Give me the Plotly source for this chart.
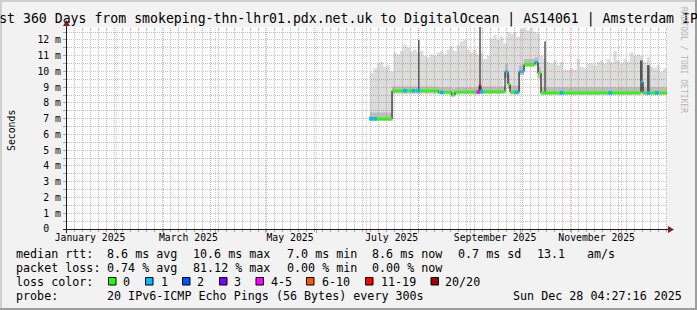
import math
import numpy as np
import pandas as pd
import plotly.graph_objects as go

# ---------------- data ----------------
range_start = "2025-01-02 04:27:16"
range_end = "2025-12-28 04:27:16"
y_top = 12.825

# smoke (max ping) per 2-day bin, starting 2025-07-03
smoke_bin_start = "2025-07-03"
smoke_bin_days = 2
smoke_top = [9.9, 10.2, 10.5, 10.6, 10.3, 10.4, 10.0, 11.2, 11.1, 11.3,
             11.7, 11.5, 11.3, 11.4, 11.2, 11.3, 11.0, 10.9, 11.1, 11.0,
             11.2, 11.3, 11.1, 11.4, 11.6, 11.3, 11.7, 11.9, 12.0, 11.4,
             11.2, 11.4, 11.1, 11.2, 10.8, 11.0, 12.1, 12.3, 12.0, 12.2,
             11.8, 12.5, 12.4, 12.5, 12.2, 12.7, 12.8, 12.6, 12.8, 12.5,
             12.4, 11.0, 10.8, 10.6, 10.5, 10.7, 10.4, 10.6, 10.1, 10.1,
             10.2, 10.1, 10.8, 10.3, 10.2, 10.5, 10.5, 10.4, 10.6, 10.7,
             10.5, 10.8, 10.6, 11.3, 10.7, 10.5, 10.8, 10.6, 11.2, 11.0,
             11.1, 11.0, 10.6, 10.9, 10.3, 10.2, 10.4, 10.0, 10.2]

# median rtt (ms) as steps, with loss category of each step
med_dates = ["2025-07-03 00:00", "2025-07-16 05:00", "2025-08-13 00:00", "2025-08-21 00:00",
             "2025-08-23 00:00", "2025-09-06 12:00", "2025-09-07 12:00", "2025-09-22 00:00",
             "2025-09-23 19:00", "2025-09-25 00:00", "2025-09-30 10:00", "2025-10-03 10:00",
             "2025-10-10 00:00", "2025-10-11 19:00", "2025-10-13 14:00", "2025-12-12 14:00",
             "2025-12-13 19:00"]
med_end = "2025-12-28 04:00"
med_vals = [7.0, 8.78, 8.68, 8.52, 8.7, 9.1, 8.72, 10.0, 9.2, 8.68, 10.0, 10.45,
            10.6, 9.9, 8.65, 9.35, 8.65]
med_loss = [0, 0, 0, 0, 0, 6, 0, 1, 0, 0, 1, 0, 1, 0, 0, 1, 0]
smoke_lo = [6.85, 8.6, 8.55, 8.4, 8.55, 8.6, 8.58, 9.6, 8.9, 8.55, 9.8, 10.3,
            10.4, 9.6, 8.5, 8.8, 8.5]
smoke_hi = [7.4, 9.05, 9.0, 8.9, 9.0, 9.4, 9.05, 10.5, 9.8, 9.1, 10.4, 10.8,
            10.9, 10.3, 9.0, 9.8, 9.0]

# single loss events on the median line
loss_dates = ["2025-07-03 12:00", "2025-07-06 00:00", "2025-07-24 00:00", "2025-07-29 00:00",
              "2025-08-01 00:00", "2025-08-15 00:00", "2025-09-06 00:00", "2025-09-08 00:00",
              "2025-09-29 00:00", "2025-10-26 00:00", "2025-11-24 00:00", "2025-12-17 00:00",
              "2025-12-22 00:00"]
loss_cat = [1, 1, 1, 1, 1, 1, 4, 1, 1, 1, 1, 1, 1]

# outlier spikes (max rtt, ms)
spike_dates = ["2025-08-01 06:00", "2025-09-07 00:00", "2025-10-16 00:00", "2025-12-12 18:00",
               "2025-12-17 00:00"]
spike_tops = [12.0, 13.0, 11.9, 10.7, 10.4]

loss_labels = ["0", "1", "2", "3", "4-5", "6-10", "11-19", "20/20"]
loss_colors = ["#26ff00", "#00b8ff", "#0059ff", "#7e00ff", "#ff00ff", "#ff5500", "#ff0000", "#a10000"]

x_label_dates = ["2025-01-16", "2025-03-16", "2025-05-16", "2025-07-16", "2025-09-16", "2025-11-16"]
x_label_text = ["January 2025", "March 2025", "May 2025", "July 2025", "September 2025", "November 2025"]
y_tick_vals = list(range(13))
y_tick_text = ["0\u00a0\u00a0"] + [f"{v} m" for v in range(1, 13)]

title = "Last 360 Days from smokeping-thn-lhr01.pdx.net.uk to DigitalOcean | AS14061 | Amsterdam IPv6"
stats_rtt = ["median rtt:", "8.6 ms avg", "10.6 ms max", "7.0 ms min", "8.6 ms now", "0.7 ms sd", "13.1", "am/s"]
stats_loss = ["packet loss:", "0.74 % avg", "81.12 % max", "0.00 % min", "0.00 % now"]
probe_text = ["probe:", "20 IPv6-ICMP Echo Pings (56 Bytes) every 300s"]
stamp = "Sun Dec 28 04:27:16 2025"

# ---------------- layout geometry ----------------
W, H = 697, 310
L, R, T, B = 67, 30, 27, 81
PW, PH = W - L - R, H - T - B
MONO = "DejaVu Sans Mono"


def px2x(px):
    return (px - L) / PW


def py2y(py):
    return (T + PH - py) / PH


def snap(p):
    return math.floor(p) + 0.5


def to_ts(v):
    return pd.to_datetime(v, format="ISO8601")


t0 = pd.Timestamp(range_start)
t1 = pd.Timestamp(range_end)
span = (t1 - t0).total_seconds()


def date_px(t):
    return L + PW * (pd.Timestamp(t) - t0).total_seconds() / span


def px_date(px):
    return t0 + pd.Timedelta(seconds=span * (px - L) / PW)


def val_py(v):
    return T + PH - PH * v / y_top


def py_val(py):
    return (T + PH - py) * y_top / PH


nb = len(smoke_top)
bin_edges = pd.date_range(smoke_bin_start, periods=nb + 1, freq=f"{smoke_bin_days}D")
bin_mid = bin_edges[:-1] + pd.Timedelta(days=smoke_bin_days / 2)

med_t = to_ts(med_dates)
med_edges = list(med_t) + [pd.Timestamp(med_end)]


def seg_index(ts):
    arr = np.asarray(pd.DatetimeIndex(ts).values, dtype="datetime64[ns]")
    idx = np.searchsorted(np.asarray(med_t.values, dtype="datetime64[ns]"), arr, side="right") - 1
    return np.clip(idx, 0, len(med_vals) - 1)


base_idx = seg_index(bin_mid)
smoke_base = [smoke_lo[i] for i in base_idx]

fig = go.Figure()
# outer smoke
fig.add_trace(go.Scatter(x=bin_edges, y=smoke_base + [smoke_base[-1]], mode="lines",
                         line=dict(width=0, shape="hv"), hoverinfo="skip"))
fig.add_trace(go.Scatter(x=bin_edges, y=smoke_top + [smoke_top[-1]], mode="lines",
                         line=dict(width=0, shape="hv"), fill="tonexty",
                         fillcolor="#dcdcdc", hoverinfo="skip"))
# inner smoke
fig.add_trace(go.Scatter(x=med_edges, y=smoke_lo + [smoke_lo[-1]], mode="lines",
                         line=dict(width=0, shape="hv"), hoverinfo="skip"))
fig.add_trace(go.Scatter(x=med_edges, y=smoke_hi + [smoke_hi[-1]], mode="lines",
                         line=dict(width=0, shape="hv"), fill="tonexty",
                         fillcolor="#bdbdbd", hoverinfo="skip"))

# ---------------- grid as traces: above smoke, below spikes / median ----------------
MINOR = "rgba(143,143,143,0.6)"
MAJOR_H = "rgba(222,79,79,0.42)"
MAJOR_V = "rgba(222,79,79,0.32)"
DOT = "1px,1px"
grid = {MINOR: ([], []), MAJOR_H: ([], []), MAJOR_V: ([], [])}
for k in range(1, 26):
    v = py_val(snap(val_py(k * 0.5)))
    xs, ys = grid[MAJOR_H if k % 2 == 0 else MINOR]
    xs += [t0, t1, None]
    ys += [v, v, None]
minor_step = pd.Timedelta(days=4.8)
minor_t = []
t = t0 + minor_step
while t < t1:
    minor_t.append(t)
    t += minor_step
month_t = list(pd.date_range("2025-02-01", "2025-12-01", freq="MS"))
for tl, col in ((minor_t, MINOR), (month_t, MAJOR_V)):
    xs, ys = grid[col]
    for tt in tl:
        ts = px_date(snap(date_px(tt)))
        xs += [ts, ts, None]
        ys += [0, y_top, None]
for col, (xs, ys) in grid.items():
    fig.add_trace(go.Scatter(x=xs, y=ys, mode="lines", line=dict(color=col, width=1, dash=DOT),
                             hoverinfo="skip"))

# spikes
spike_t = to_ts(spike_dates)
sp_idx = seg_index(spike_t)
for group, width, color in (([0, 1, 2], 1.6, "#5e5e5e"), ([3, 4], 2.6, "#555555")):
    xs, ys = [], []
    for k in group:
        xs += [spike_t[k], spike_t[k], None]
        ys += [med_vals[sp_idx[k]], spike_tops[k], None]
    fig.add_trace(go.Scatter(x=xs, y=ys, mode="lines", line=dict(color=color, width=width),
                             hoverinfo="skip"))

# median: black steps then loss-coloured horizontal pieces
fig.add_trace(go.Scatter(x=med_edges, y=med_vals + [med_vals[-1]], mode="lines",
                         line=dict(color="#000000", width=1, shape="hv"), hoverinfo="skip"))
for c in range(len(loss_colors)):
    xs, ys = [], []
    for i, v in enumerate(med_vals):
        if med_loss[i] == c:
            xs += [med_edges[i], med_edges[i + 1], None]
            ys += [v, v, None]
    if xs:
        fig.add_trace(go.Scatter(x=xs, y=ys, mode="lines", line=dict(color=loss_colors[c], width=2.4),
                                 hoverinfo="skip"))
loss_t = to_ts(loss_dates)
l_idx = seg_index(loss_t)
fig.add_trace(go.Scatter(x=loss_t, y=[med_vals[i] for i in l_idx], mode="markers",
                         marker=dict(symbol="square", size=3.6, color=[loss_colors[c] for c in loss_cat],
                                     line=dict(width=0)), hoverinfo="skip"))

# ---------------- ticks, axes, border, legend boxes (shapes) ----------------
shapes = []
TICK_MINOR = "rgba(143,143,143,0.75)"
TICK_MAJOR = "rgba(222,79,79,0.6)"
for k in range(1, 26):
    yy = py2y(snap(val_py(k * 0.5)))
    shapes.append(dict(type="line", xref="paper", yref="paper", x0=px2x(L - 4), x1=px2x(L - 1),
                       y0=yy, y1=yy, line=dict(color=TICK_MINOR, width=1), layer="above"))
for tl, col, ln in ((minor_t, TICK_MINOR, 3), (month_t, TICK_MAJOR, 4)):
    for tt in tl:
        xx = px2x(snap(date_px(tt)))
        shapes.append(dict(type="line", xref="paper", yref="paper", x0=xx, x1=xx,
                           y0=py2y(T + PH + ln), y1=py2y(T + PH + 1),
                           line=dict(color=col, width=1), layer="above"))

AXIS = "#1f1f1f"
ARROW = "#801f1f"
y_ax = 229.5
x_ax = 66.5
shapes.append(dict(type="line", xref="paper", yref="paper", x0=px2x(63), x1=px2x(670),
                   y0=py2y(y_ax), y1=py2y(y_ax), line=dict(color=AXIS, width=1), layer="above"))
shapes.append(dict(type="line", xref="paper", yref="paper", x0=px2x(x_ax), x1=px2x(x_ax),
                   y0=py2y(233), y1=py2y(24), line=dict(color=AXIS, width=1), layer="above"))
shapes.append(dict(type="path", xref="paper", yref="paper", layer="above",
                   path=f"M {px2x(674)},{py2y(y_ax)} L {px2x(668)},{py2y(y_ax - 3.5)} "
                        f"L {px2x(668)},{py2y(y_ax + 3.5)} Z",
                   fillcolor=ARROW, line=dict(width=0)))
shapes.append(dict(type="path", xref="paper", yref="paper", layer="above",
                   path=f"M {px2x(x_ax)},{py2y(20)} L {px2x(x_ax - 3.5)},{py2y(26)} "
                        f"L {px2x(x_ax + 3.5)},{py2y(26)} Z",
                   fillcolor=ARROW, line=dict(width=0)))

for x0, x1, y0, y1, col in ((0, W, 0, 2, "#cfcfcf"), (0, 2, 0, H, "#cfcfcf"),
                            (0, W, H - 2, H, "#9e9e9e"), (W - 2, W, 0, H, "#9e9e9e")):
    shapes.append(dict(type="rect", xref="paper", yref="paper", x0=px2x(x0), x1=px2x(x1),
                       y0=py2y(y0), y1=py2y(y1), fillcolor=col, line=dict(width=0), layer="above"))

box_x = [108.5, 145.5, 182.5, 219.5, 256.0, 306.5, 365.5, 431.0]
lab_x = [123.3, 160.7, 197.3, 234.3, 270.7, 321.7, 380.7, 445.3]
for bx, col in zip(box_x, loss_colors):
    shapes.append(dict(type="rect", xref="paper", yref="paper", x0=px2x(bx), x1=px2x(bx + 7.5),
                       y0=py2y(277.5), y1=py2y(285), fillcolor=col,
                       line=dict(color="#000000", width=1), layer="above"))

# ---------------- text ----------------
ann = []


def text(px, py, s, size=11.7, anchor="left", angle=0, color="#000000"):
    ann.append(dict(xref="paper", yref="paper", x=px2x(px), y=py2y(py), text=s, showarrow=False,
                    xanchor=anchor, yanchor="middle", textangle=angle, borderpad=0, borderwidth=0,
                    font=dict(family=MONO, size=size, color=color)))


row_x = [16, 107.3, 193.3, 286.7, 372.3, 458.3, 537.3, 586.7]
for px, s in zip(row_x, stats_rtt):
    text(px, 254.3, s)
for px, s in zip(row_x, stats_loss):
    text(px, 268.3, s)
text(16, 282.3, "loss color:")
for px, s in zip(lab_x, loss_labels):
    text(px, 282.3, s)
text(16, 296.2, probe_text[0])
text(107.3, 296.2, probe_text[1])
text(513.3, 296.2, stamp)
text(11, 131, "Seconds", size=9.8, anchor="center", angle=-90)
text(684, 60, "RRDTOOL / TOBI OETIKER", size=8, anchor="center", angle=90, color="#b4b4b4")

fig.update_layout(
    width=W, height=H,
    margin=dict(l=L, r=R, t=T, b=B, pad=0, autoexpand=False),
    paper_bgcolor="#f2f2f2", plot_bgcolor="#ffffff",
    showlegend=False,
    title=dict(text=title, x=0.5, xref="container", xanchor="center", y=1 - 18 / H,
               yref="container", yanchor="middle", font=dict(family=MONO, size=13.2, color="#000000")),
    xaxis=dict(type="date", range=[t0, t1], showgrid=False, zeroline=False, showline=False,
               ticks="", tickvals=x_label_dates, ticktext=x_label_text, ticklabelstandoff=1,
               tickfont=dict(family=MONO, size=9.8, color="#000000")),
    yaxis=dict(range=[0, y_top], showgrid=False, zeroline=False, showline=False, ticks="",
               tickvals=y_tick_vals, ticktext=y_tick_text, ticklabelstandoff=5,
               tickfont=dict(family=MONO, size=9.8, color="#000000")),
    shapes=shapes, annotations=ann,
)

fig.write_html("out.html")
